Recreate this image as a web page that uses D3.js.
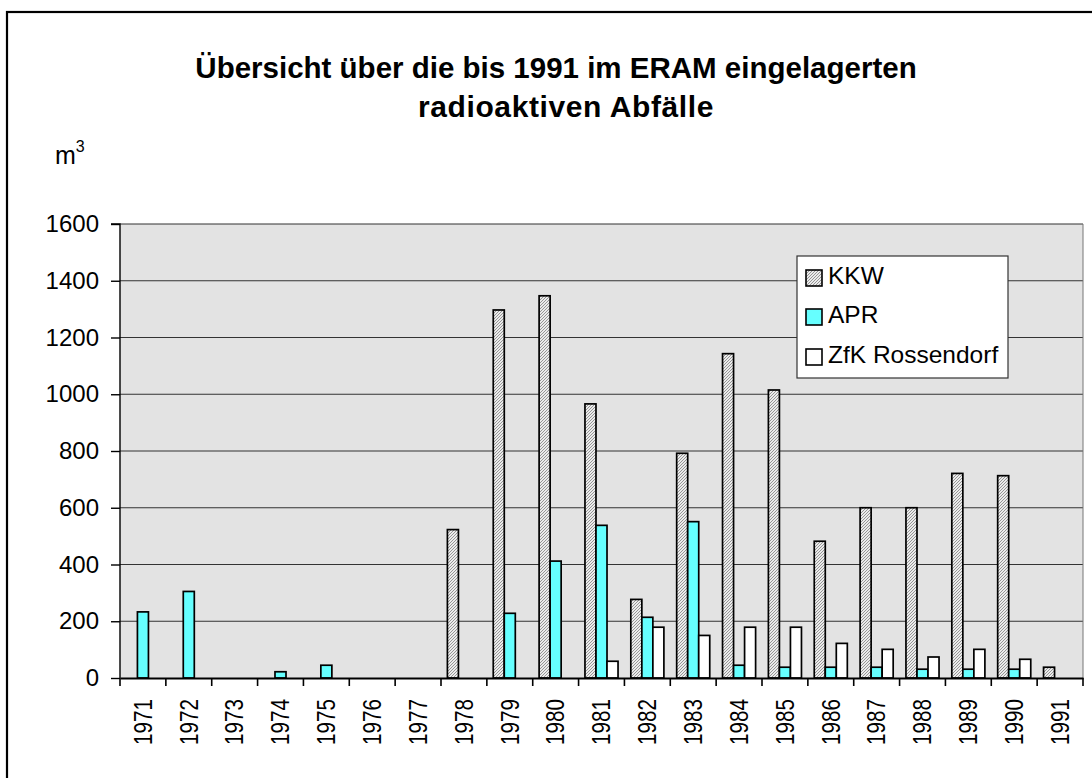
<!DOCTYPE html>
<html>
<head>
<meta charset="utf-8">
<script src="https://cdn.jsdelivr.net/npm/d3@7"></script>
<style>
  html, body { margin: 0; padding: 0; background: #fff; }
  svg { display: block; }
  text { font-family: "Liberation Sans", Arial, Helvetica, sans-serif; fill: #000; }
</style>
</head>
<body>
<svg id="chart" width="1092" height="778"></svg>
<script>
// ---- data ----
const years = ["1971","1972","1973","1974","1975","1976","1977","1978","1979","1980","1981",
               "1982","1983","1984","1985","1986","1987","1988","1989","1990","1991"];
const seriesNames = ["KKW", "APR", "ZfK Rossendorf"];
const kkw = [0,0,0,0,0,0,0,523,1297,1347,966,277,792,1143,1015,482,600,600,721,713,38];
const apr = [233,305,0,22,45,0,0,0,228,412,538,214,551,45,38,38,38,31,31,31,0];
const zfk = [0,0,0,0,0,0,0,0,0,0,59,179,150,179,179,122,101,74,101,66,0];
const yTicks = [0,200,400,600,800,1000,1200,1400,1600];
const titleLines = ["Übersicht über die bis 1991 im ERAM eingelagerten", "radioaktiven Abfälle"];

const valuesBySeries = [kkw, apr, zfk];

// ---- layout ----
const svg = d3.select("#chart");
const plot = { left: 120, right: 1083, top: 224, bottom: 678 };

// frame
svg.append("rect")
  .attr("x", 7).attr("y", 12).attr("width", 1200).attr("height", 900)
  .attr("fill", "none").attr("stroke", "#000").attr("stroke-width", 2.2);

// pattern for KKW
const defs = svg.append("defs");
const pat = defs.append("pattern")
  .attr("id", "hatch").attr("patternUnits", "userSpaceOnUse")
  .attr("width", 3).attr("height", 3);
pat.append("rect").attr("width", 3).attr("height", 3).attr("fill", "#ebebeb");
pat.append("path").attr("d", "M0,3 L3,0 M-1,1 L1,-1 M2,4 L4,2")
  .attr("stroke", "#959595").attr("stroke-width", 1);

const fills = ["url(#hatch)", "#66ffff", "#ffffff"];

// scales
const x0 = d3.scaleBand().domain(years).range([plot.left, plot.right]).padding(0);
const x1 = d3.scaleBand().domain(seriesNames).range([0, x0.bandwidth()])
  .paddingInner(0).paddingOuter(0.58);
const y = d3.scaleLinear().domain([0, 1600]).range([plot.bottom, plot.top]);

// plot background
svg.append("rect")
  .attr("x", plot.left).attr("y", plot.top)
  .attr("width", plot.right - plot.left).attr("height", plot.bottom - plot.top)
  .attr("fill", "#e3e3e3");

// gridlines
svg.append("g").selectAll("line").data(yTicks.filter(d => d > 0)).join("line")
  .attr("x1", plot.left).attr("x2", plot.right)
  .attr("y1", d => y(d)).attr("y2", d => y(d))
  .attr("stroke", "#333").attr("stroke-width", 1.2);

// right border of plot area
svg.append("line")
  .attr("x1", plot.right).attr("x2", plot.right)
  .attr("y1", plot.top).attr("y2", plot.bottom)
  .attr("stroke", "#777").attr("stroke-width", 1);

// bars
const gBars = svg.append("g");
years.forEach((yr, i) => {
  seriesNames.forEach((s, j) => {
    const v = valuesBySeries[j][i];
    if (v <= 0) return;
    gBars.append("rect")
      .attr("x", x0(yr) + x1(s))
      .attr("y", y(v))
      .attr("width", x1.bandwidth())
      .attr("height", y(0) - y(v))
      .attr("fill", fills[j])
      .attr("stroke", "#000").attr("stroke-width", 1.7);
  });
});

// y axis
const yAxis = d3.axisLeft(y).tickValues(yTicks).tickSize(9).tickPadding(12).tickFormat(d3.format("d"));
const gy = svg.append("g").attr("transform", `translate(${plot.left},0)`).call(yAxis);
gy.select(".domain").attr("stroke", "#000").attr("stroke-width", 1.4).attr("d", `M-9,${plot.top}H0V${plot.bottom}`);
gy.selectAll(".tick line").attr("stroke", "#000").attr("stroke-width", 1.4);
gy.selectAll(".tick text").attr("font-size", 24).attr("font-family", "Liberation Sans, Arial, sans-serif").attr("fill", "#000");

// x axis
const xAxis = d3.axisBottom(x0).tickSize(0).tickPadding(0);
const gx = svg.append("g").attr("transform", `translate(0,${plot.bottom})`).call(xAxis);
gx.select(".domain").attr("stroke", "#000").attr("stroke-width", 2);
gx.selectAll(".tick text")
  .attr("font-size", 22).attr("font-family", "Liberation Sans, Arial, sans-serif").attr("fill", "#000")
  .attr("text-anchor", "end").attr("dy", null)
  .attr("transform", "translate(0,21) rotate(-90) scale(0.94,1.15)")
  .attr("x", 0).attr("y", 0).attr("dominant-baseline", "central");
// boundary ticks
svg.append("g").selectAll("line").data(d3.range(years.length + 1)).join("line")
  .attr("x1", i => plot.left + i * x0.step()).attr("x2", i => plot.left + i * x0.step())
  .attr("y1", plot.bottom).attr("y2", plot.bottom + 8)
  .attr("stroke", "#000").attr("stroke-width", 1.6);

// title
svg.append("text").attr("x", 556).attr("y", 78).attr("text-anchor", "middle")
  .attr("font-size", 29.5).attr("font-weight", "bold").text(titleLines[0]);
svg.append("text").attr("x", 566).attr("y", 117).attr("text-anchor", "middle")
  .attr("font-size", 30).attr("font-weight", "bold").attr("letter-spacing", 0.6).text(titleLines[1]);

// unit label
const unit = svg.append("text").attr("x", 55).attr("y", 164).attr("font-size", 25);
unit.append("tspan").text("m");
unit.append("tspan").attr("font-size", 16).attr("dy", -12).text("3");

// legend
const lg = svg.append("g");
lg.append("rect").attr("x", 797).attr("y", 256).attr("width", 211).attr("height", 122)
  .attr("fill", "#fff").attr("stroke", "#333").attr("stroke-width", 1.2);
const legY = [270, 309, 349];
seriesNames.forEach((s, j) => {
  lg.append("rect").attr("x", 806).attr("y", legY[j]).attr("width", 16).attr("height", 16)
    .attr("fill", fills[j]).attr("stroke", "#000").attr("stroke-width", 1.6);
  lg.append("text").attr("x", 828).attr("y", legY[j] + 14).attr("font-size", 24.5).text(s);
});
</script>
</body>
</html>
